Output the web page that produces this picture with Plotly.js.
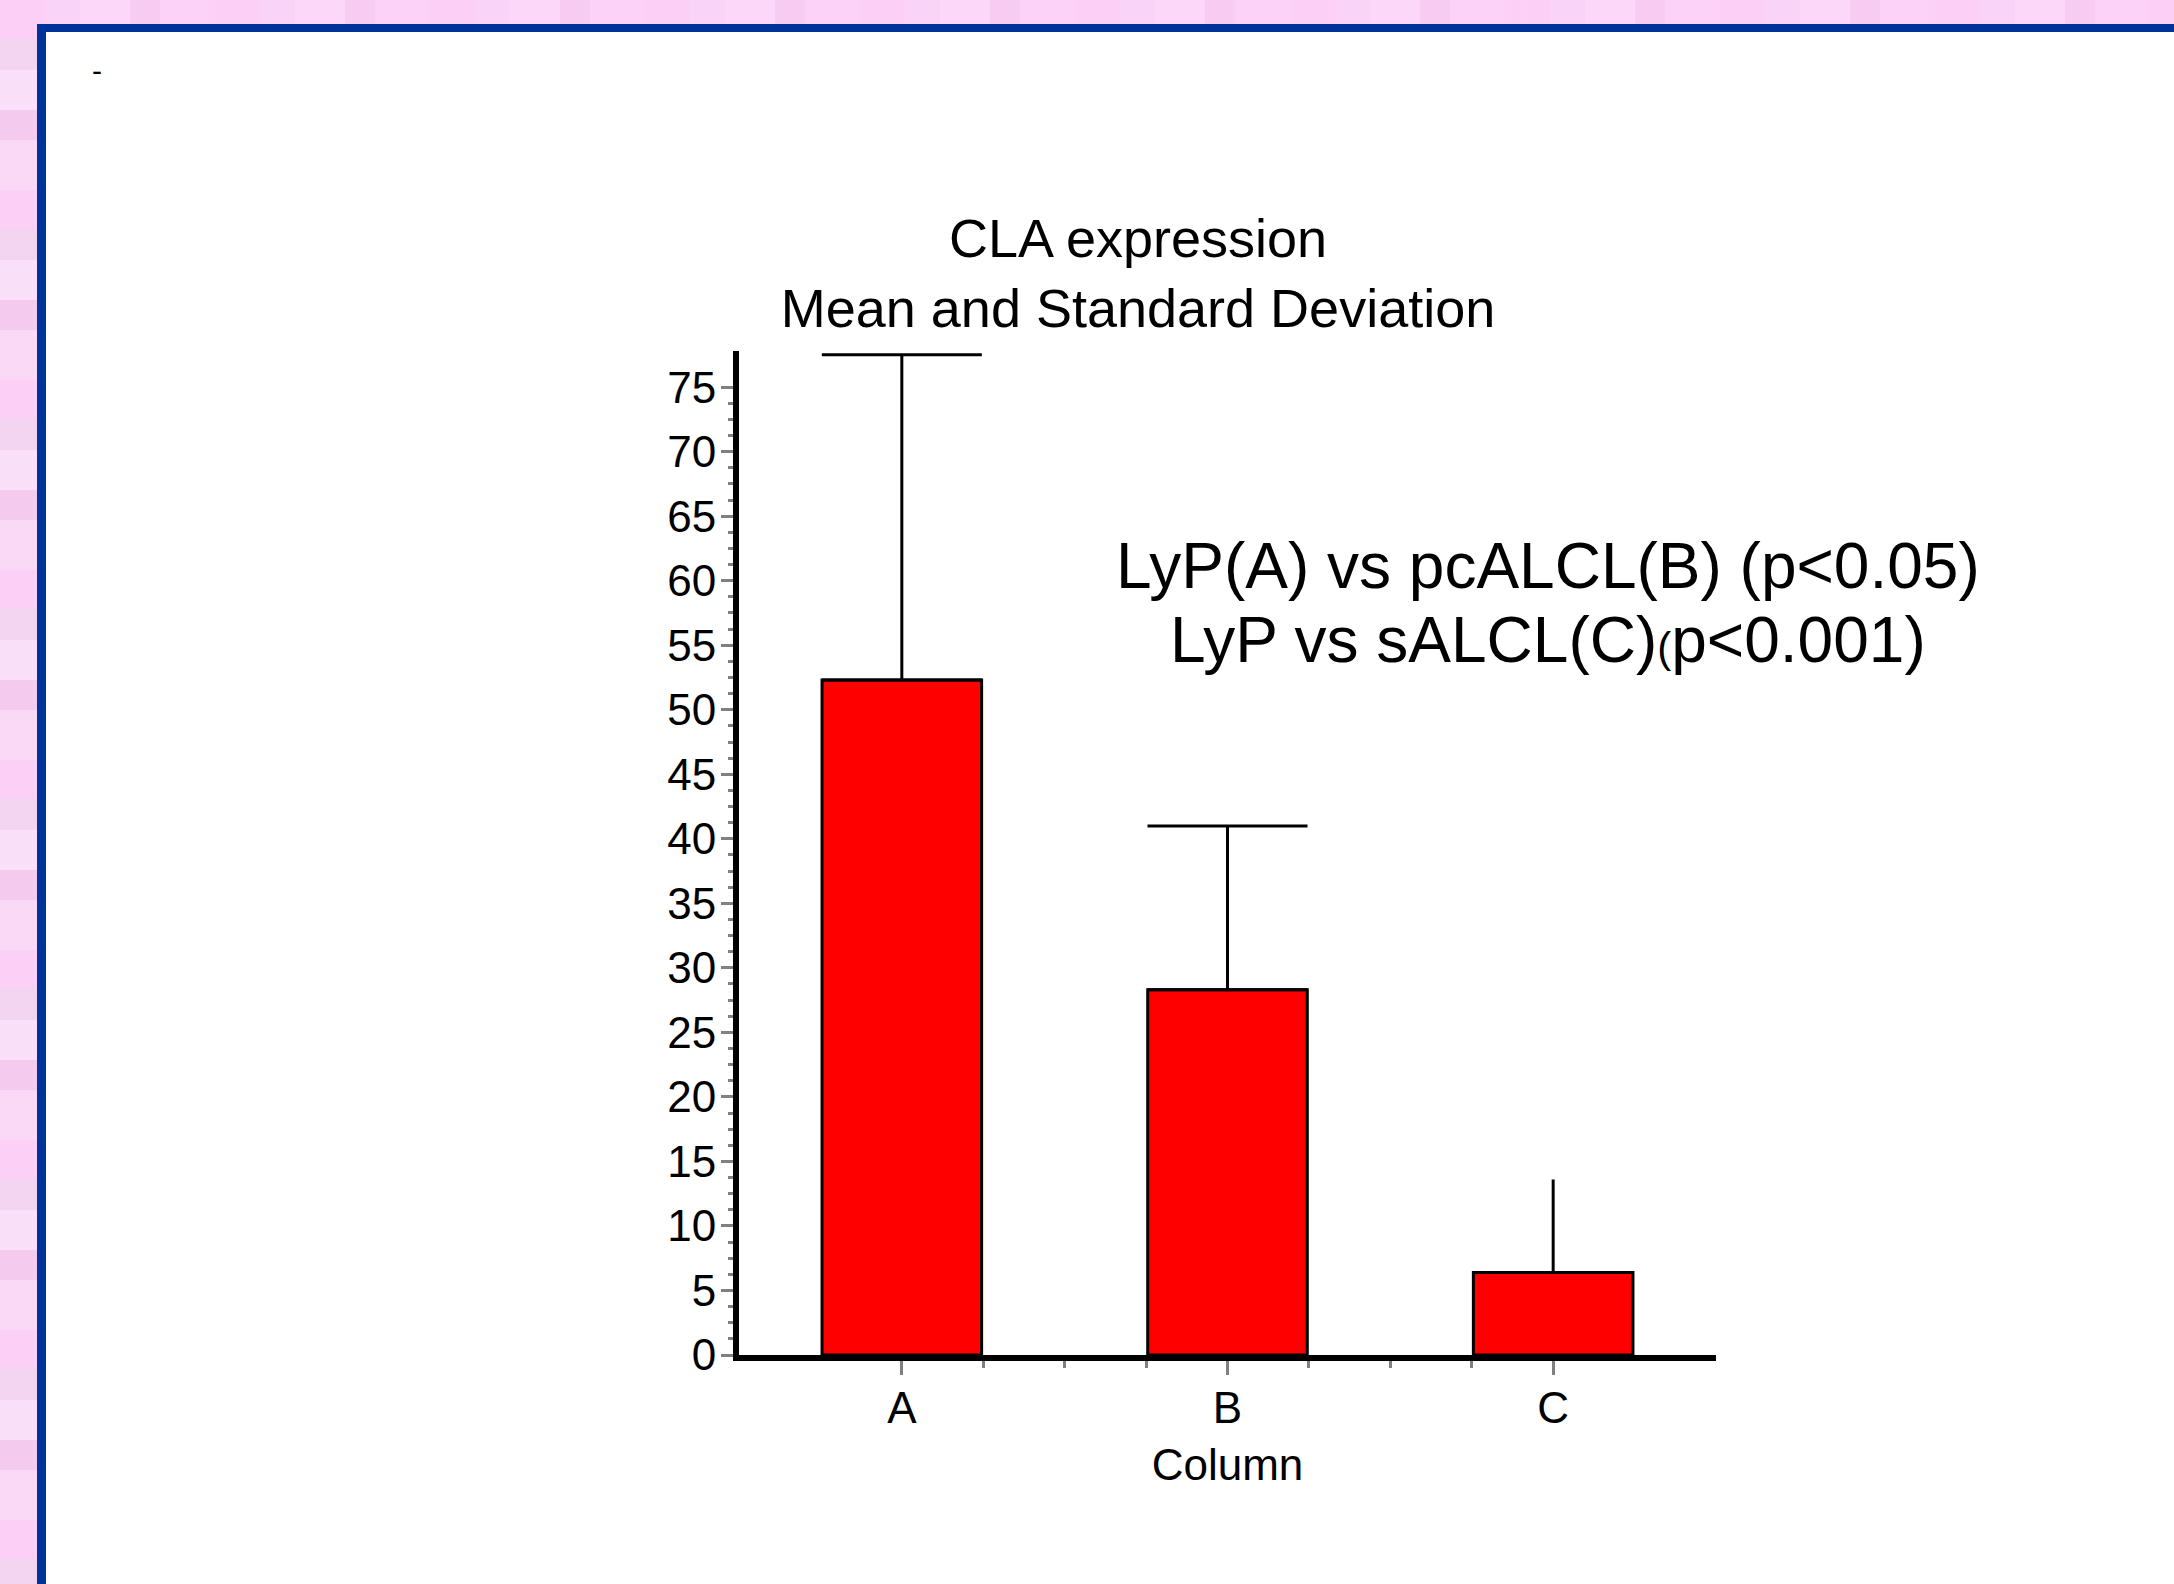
<!DOCTYPE html>
<html>
<head>
<meta charset="utf-8">
<script src="https://cdn.plot.ly/plotly-3.0.1.min.js"></script>
<style>
html,body{margin:0;padding:0;width:2174px;height:1584px;overflow:hidden;}
#bg{position:absolute;left:0;top:0;width:2174px;height:1584px;
  background-color:#f7d8f3;
  background-image:
    repeating-linear-gradient(180deg, rgba(255,205,250,0.55) 0 38px, rgba(238,214,240,0.55) 38px 70px, rgba(252,232,252,0.6) 70px 110px, rgba(242,196,236,0.55) 110px 140px, rgba(250,222,248,0.5) 140px 190px),
    repeating-linear-gradient(90deg, rgba(250,205,245,0.5) 0 45px, rgba(240,225,245,0.5) 45px 80px, rgba(255,238,255,0.55) 80px 130px, rgba(230,190,225,0.5) 130px 160px, rgba(248,215,246,0.5) 160px 215px);
}
#frame{position:absolute;left:37px;top:24px;width:2137px;height:1560px;background:#ffffff;
  border-left:9px solid #003399;border-top:8px solid #003399;box-sizing:border-box;}
#chart{position:absolute;left:0;top:0;width:2174px;height:1584px;}
</style>
</head>
<body>
<div id="bg"></div>
<div id="frame"></div>
<div id="chart"></div>
<script>
// ---- data ----
const categories = ['A', 'B', 'C'];
const means = [52.3, 28.3, 6.4];
const stdDevs = [25.2, 12.7, 7.2];
const titleLines = ['CLA expression', 'Mean and Standard Deviation'];
const noteLines = ['LyP(A) vs pcALCL(B) (p&lt;0.05)', 'LyP vs sALCL(C)<span style="font-size:42px">(</span>p&lt;0.001)'];
const xTitle = 'Column';

// ---- geometry (pixels) ----
const W = 2174, H = 1584;
const L = 739, R = 1716, T = 351, B = 1355;
const px2x = p => (p - L) / (R - L);
const py2y = p => (B - p) / (B - T);
const FONT = 'Liberation Sans, Arial, Helvetica, sans-serif';

const positions = categories.map((c, i) => i);

const traces = categories.map((c, i) => ({
  type: 'bar',
  x: [positions[i]],
  y: [means[i]],
  width: 0.49,
  marker: {color: '#ff0000', line: {color: '#000000', width: 3}},
  error_y: {
    type: 'data', symmetric: false,
    array: [stdDevs[i]], arrayminus: [0],
    color: '#000000', thickness: 3,
    width: i === categories.length - 1 ? 0 : 80
  },
  hoverinfo: 'skip',
  showlegend: false
}));

const yMinor = [];
for (let k = 1; k * 1.25 < 75; k++) { if (k % 4 !== 0) yMinor.push(k * 1.25); }

const layout = {
  width: W, height: H,
  paper_bgcolor: 'rgba(0,0,0,0)',
  plot_bgcolor: 'rgba(0,0,0,0)',
  margin: {l: L, r: W - R, t: T, b: H - B, pad: 0},
  barmode: 'overlay',
  font: {family: FONT, color: '#000000'},
  title: {
    text: titleLines.join('<br>'),
    font: {family: FONT, size: 54, color: '#000000'},
    xref: 'container', yref: 'container',
    x: 1138 / W, xanchor: 'center',
    y: 1 - 257 / H, yanchor: 'top'
  },
  xaxis: {
    range: [-0.5, 2.5],
    showline: true, linecolor: '#000000', linewidth: 6,
    showgrid: false, zeroline: false,
    tickmode: 'array', tickvals: positions, ticktext: categories,
    ticks: 'outside', ticklen: 14, tickwidth: 3, tickcolor: '#808080',
    tickfont: {family: FONT, size: 44, color: '#000000'},
    ticklabelstandoff: -5,
    minor: {tickmode: 'array', tickvals: [0.25, 0.5, 0.75, 1.25, 1.5, 1.75],
            ticks: 'outside', ticklen: 7, tickwidth: 3, tickcolor: '#808080', showgrid: false},
    title: {text: xTitle, font: {family: FONT, size: 44, color: '#000000'}, standoff: 20},
    automargin: false, fixedrange: true
  },
  yaxis: {
    range: [0, 77.8],
    showline: true, linecolor: '#000000', linewidth: 6,
    showgrid: false, zeroline: false,
    tickmode: 'linear', tick0: 0, dtick: 5,
    ticks: 'outside', ticklen: 12, tickwidth: 3, tickcolor: '#808080',
    tickfont: {family: FONT, size: 44, color: '#000000'},
    ticklabelstandoff: -4,
    minor: {tickmode: 'array', tickvals: yMinor,
            ticks: 'outside', ticklen: 5, tickwidth: 3, tickcolor: '#808080', showgrid: false},
    automargin: false, fixedrange: true
  },
  annotations: [
    {text: noteLines[0], xref: 'paper', yref: 'paper', x: px2x(1548), y: py2y(566),
     xanchor: 'center', yanchor: 'middle', showarrow: false,
     font: {family: FONT, size: 64, color: '#000000'}},
    {text: noteLines[1], xref: 'paper', yref: 'paper', x: px2x(1548), y: py2y(640),
     xanchor: 'center', yanchor: 'middle', showarrow: false,
     font: {family: FONT, size: 64, color: '#000000'}},
    {text: '-', xref: 'paper', yref: 'paper', x: px2x(97), y: py2y(70),
     xanchor: 'center', yanchor: 'middle', showarrow: false,
     font: {family: FONT, size: 30, color: '#000000'}}
  ]
};

Plotly.newPlot('chart', traces, layout, {staticPlot: true, displayModeBar: false});
</script>
</body>
</html>
